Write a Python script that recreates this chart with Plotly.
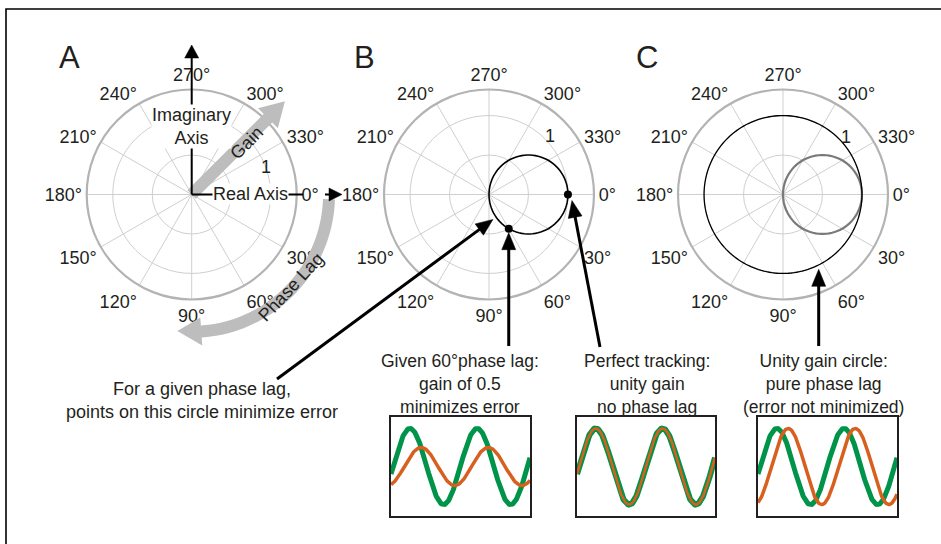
import numpy as np
import plotly.graph_objects as go

W, H = 941, 544
FONT = "Liberation Sans, Arial, Helvetica, sans-serif"
TXT = "#231f20"
GRID = "#cfcfcf"
RIM = "#b3b3b3"
LIGHT = "#bdbdbd"
GREEN = "#00944a"
ORANGE = "#d8601f"

# ---------------- data ----------------
angle_ticks = [0, 30, 60, 90, 120, 150, 180, 210, 240, 270, 300, 330]
angle_labels = [f"{a}°" for a in angle_ticks]
radial_rings = [0.5, 1.0]
radial_max = 1.33

# optimal-gain circle: gain = cos(phase lag)
lag_deg = list(range(-90, 91, 2))
opt_gain = [float(np.cos(np.radians(a))) for a in lag_deg]
unity_theta = list(range(0, 361, 2))
unity_r = [1.0] * len(unity_theta)

marked_gain = [1.0, 0.5]
marked_lag = [0, 60]

# sinusoid insets: (gain, phase lag in degrees) of the tracking signal
inset_gain = [0.5, 1.0, 1.0]
inset_lag = [60, 0, 60]
t = np.linspace(-0.2, 12.8, 260)
target = np.sin(t)

# ---------------- geometry helpers ----------------
R = 105.0
U = R / radial_max
centers = {"A": (191.7, 194.5), "B": (489.0, 194.5), "C": (783.0, 194.5)}


def px(x):
    return x / W


def py(y):
    return 1 - y / H


def pol(panel, r, th):
    cx, cy = centers[panel]
    a = np.radians(th)
    return cx + r * U * np.cos(a), cy + r * U * np.sin(a)


def polar_domain(panel):
    cx, cy = centers[panel]
    return dict(x=[px(cx - R), px(cx + R)], y=[py(cy + R), py(cy - R)])


def path(points):
    s = "M " + " L ".join(f"{px(x):.5f},{py(y):.5f}" for x, y in points) + " Z"
    return s


shapes = []


def arrow(x0, y0, x1, y1, lw=3, hl=17, hw=14, color="black"):
    dx, dy = x1 - x0, y1 - y0
    L = np.hypot(dx, dy)
    ux, uy = dx / L, dy / L
    bx, by = x1 - ux * hl, y1 - uy * hl
    nx, ny = -uy, ux
    shapes.append(dict(type="line", xref="paper", yref="paper",
                       x0=px(x0), y0=py(y0), x1=px(bx + ux * 2), y1=py(by + uy * 2),
                       line=dict(color=color, width=lw), layer="above"))
    shapes.append(dict(type="path", xref="paper", yref="paper",
                       path=path([(x1, y1), (bx + nx * hw / 2, by + ny * hw / 2),
                                  (bx - nx * hw / 2, by - ny * hw / 2)]),
                       fillcolor=color, line=dict(color=color, width=0.5), layer="above"))


def seg(x0, y0, x1, y1, lw=2, color="black"):
    shapes.append(dict(type="line", xref="paper", yref="paper",
                       x0=px(x0), y0=py(y0), x1=px(x1), y1=py(y1),
                       line=dict(color=color, width=lw), layer="above"))


fig = go.Figure()

# ---------------- polar panels ----------------
polar_layout = {}
for i, panel in enumerate(["A", "B", "C"]):
    key = "polar" if i == 0 else f"polar{i+1}"
    polar_layout[key] = dict(
        domain=polar_domain(panel),
        bgcolor="rgba(0,0,0,0)",
        radialaxis=dict(range=[0, radial_max], tickvals=radial_rings, showticklabels=False,
                        ticks="", showline=False, gridcolor=GRID, gridwidth=1.4),
        angularaxis=dict(direction="clockwise", rotation=0, tickvals=angle_ticks,
                         ticktext=angle_labels, ticks="", showline=True, linecolor=RIM,
                         linewidth=2.2, gridcolor=GRID, gridwidth=1.4,
                         tickfont=dict(family=FONT, size=18, color=TXT)),
    )

# panel A only shows the empty polar grid
fig.add_trace(go.Scatterpolar(r=[None], theta=[None], mode="lines", subplot="polar",
                              showlegend=False, hoverinfo="skip"))
fig.add_trace(go.Scatterpolar(r=opt_gain, theta=lag_deg, mode="lines", subplot="polar2",
                              line=dict(color="black", width=1.6), showlegend=False))
fig.add_trace(go.Scatterpolar(r=marked_gain, theta=marked_lag, mode="markers", subplot="polar2",
                              marker=dict(color="black", size=8), showlegend=False))
fig.add_trace(go.Scatterpolar(r=opt_gain, theta=lag_deg, mode="lines", subplot="polar3",
                              line=dict(color="#7a7a7a", width=2.2), showlegend=False))
fig.add_trace(go.Scatterpolar(r=unity_r, theta=unity_theta, mode="lines", subplot="polar3",
                              line=dict(color="black", width=1.3), showlegend=False))

# ---------------- sinusoid insets ----------------
boxes = [(391, 417, 530, 516), (577, 417, 715, 516), (758, 417, 897, 516)]
green_w = [5, 6, 5]
orange_w = [3.5, 2.5, 3.5]
axes_layout = {}
for i, (g, lag) in enumerate(zip(inset_gain, inset_lag)):
    xa = "x" if i == 0 else f"x{i+1}"
    ya = "y" if i == 0 else f"y{i+1}"
    resp = g * np.sin(t - np.radians(lag))
    fig.add_trace(go.Scatter(x=t, y=target, mode="lines", xaxis=xa, yaxis=ya,
                             line=dict(color=GREEN, width=green_w[i]), showlegend=False))
    fig.add_trace(go.Scatter(x=t, y=resp, mode="lines", xaxis=xa, yaxis=ya,
                             line=dict(color=ORANGE, width=orange_w[i]), showlegend=False))
    x0, y0, x1, y1 = boxes[i]
    axn = "xaxis" if i == 0 else f"xaxis{i+1}"
    ayn = "yaxis" if i == 0 else f"yaxis{i+1}"
    axes_layout[axn] = dict(domain=[px(x0), px(x1)], range=[t[0], t[-1]], anchor=ya,
                            showline=True, mirror=True, linecolor=TXT, linewidth=1.6,
                            showgrid=False, zeroline=False, showticklabels=False, ticks="")
    axes_layout[ayn] = dict(domain=[py(y1), py(y0)], range=[-1.3, 1.3], anchor=xa,
                            showline=True, mirror=True, linecolor=TXT, linewidth=1.6,
                            showgrid=False, zeroline=False, showticklabels=False, ticks="")

# ---------------- decorations ----------------
# frame
shapes.append(dict(type="rect", xref="paper", yref="paper", x0=px(6), y0=py(9), x1=px(960),
                   y1=py(560), line=dict(color="black", width=1.6), layer="above"))

# Gain arrow (grey)
cxA, cyA = centers["A"]
tipx, tipy = pol("A", 1.67, 315)
dx, dy = tipx - cxA, tipy - cyA
L = np.hypot(dx, dy)
ux, uy = dx / L, dy / L
nx, ny = -uy, ux
hl, sw, hw = 24, 6, 14
bx, by = tipx - ux * hl, tipy - uy * hl
gain_poly = [(cxA + nx * sw, cyA + ny * sw), (bx + nx * sw, by + ny * sw), (bx + nx * hw, by + ny * hw),
             (tipx, tipy), (bx - nx * hw, by - ny * hw), (bx - nx * sw, by - ny * sw),
             (cxA - nx * sw, cyA - ny * sw)]
shapes.append(dict(type="path", xref="paper", yref="paper", path=path(gain_poly),
                   fillcolor=LIGHT, line=dict(width=0), layer="above"))

# Phase Lag arc (grey)
rr = 1.74
th0, thh, tht = 2, 86, 96
arc_out = [pol("A", rr + 6 / U, a) for a in np.linspace(th0, thh, 40)]
arc_in = [pol("A", rr - 6 / U, a) for a in np.linspace(thh, th0, 40)]
head = [pol("A", rr + 14 / U, thh), pol("A", rr, tht), pol("A", rr - 14 / U, thh)]
shapes.append(dict(type="path", xref="paper", yref="paper", path=path(arc_out + head + arc_in),
                   fillcolor=LIGHT, line=dict(width=0), layer="above"))

# Axis arrows in panel A
arrow(cxA, cyA, cxA, 45, lw=2, hl=13, hw=14)
seg(cxA, cyA, 303, cyA, lw=2)
arrow(325, cyA, 342, cyA, lw=2, hl=13, hw=13)

# Black pointer arrows
t1 = pol("B", 0.32, 81)
arrow(277, 379, t1[0], t1[1], lw=3)
d60 = pol("B", 0.5, 60)
arrow(d60[0], 346, d60[0], d60[1] + 4, lw=3)
d0 = pol("B", 1.0, 0)
arrow(600, 347, d0[0] + 4, d0[1] + 6, lw=3)
tc = pol("C", 1.05, 64.5)
arrow(tc[0], 346, tc[0], tc[1], lw=3)

# ---------------- annotations ----------------
ann = []


def text(x, y, s, size=18, angle=0, bg=None, xanchor="center"):
    d = dict(x=px(x), y=py(y), xref="paper", yref="paper", text=s, showarrow=False,
             font=dict(family=FONT, size=size, color=TXT), textangle=angle, xanchor=xanchor,
             yanchor="middle", align="center")
    if bg:
        d["bgcolor"] = bg
        d["borderpad"] = 0
    ann.append(d)


text(69, 58, "A", size=31)
text(364, 58, "B", size=31)
text(647, 58, "C", size=31)

text(cxA, 127, "Imaginary<br>Axis", bg="white")
text(250.5, 193.5, "Real Axis", bg="white")
text(246.7, 143.3, "Gain", angle=-45)
text(291, 287, "Phase Lag", angle=-47)

one_a = pol("A", 1.0, 340)
one_b = pol("B", 1.07, 316)
one_c = pol("C", 1.08, 318)
for (x, y) in (one_a, one_b, one_c):
    text(x, y, "1")

text(202, 400, "For a given phase lag,<br>points on this circle minimize error")
text(460, 383.5, "Given 60°phase lag:<br>gain of 0.5<br>minimizes error", size=17.5)
text(646.5, 383.5, "Perfect tracking:<br>unity gain<br>no phase lag", size=17.5)
text(823, 383.5, "Unity gain circle:<br>pure phase lag<br>(error not minimized)", size=17.5)

fig.update_layout(
    width=W, height=H, margin=dict(l=0, r=0, t=0, b=0),
    paper_bgcolor="white", plot_bgcolor="rgba(0,0,0,0)",
    showlegend=False, shapes=shapes, annotations=ann,
    font=dict(family=FONT, color=TXT),
    **polar_layout, **axes_layout,
)

fig.write_html("out.html")
